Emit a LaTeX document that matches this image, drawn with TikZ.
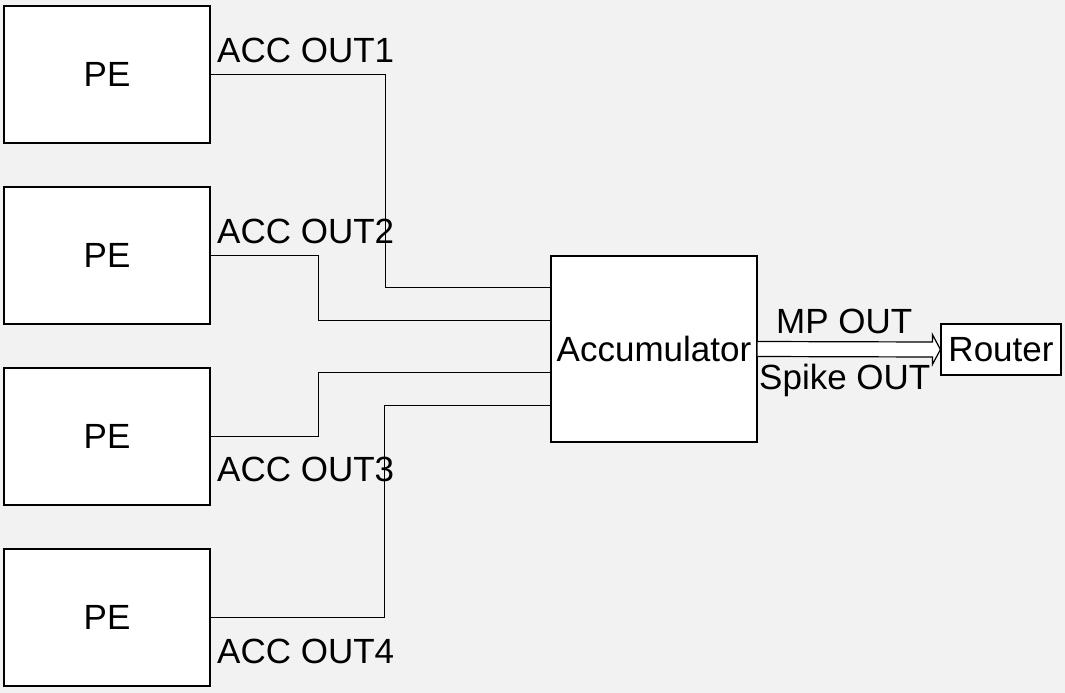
\documentclass[tikz,border=0pt]{standalone}
\usepackage{fontspec}
\setmainfont{Liberation Sans}
\usetikzlibrary{calc}
\definecolor{bg}{HTML}{F2F2F2}
\tikzset{
  box/.style={draw=black, fill=white, line width=1.2pt, inner sep=0pt, font=\fontsize{35}{42}\selectfont},
  lbl/.style={anchor=base west, inner sep=0pt, font=\fontsize{35}{42}\selectfont},
  wire/.style={draw=black, line width=1.2pt},
}
\begin{document}
\begin{tikzpicture}[x=1pt,y=-1pt]
\fill[bg] (0,0) rectangle (1065,693);
\useasboundingbox (0,0) rectangle (1065,693);
\node[box, minimum width=206pt, minimum height=137pt] (pe1) at (107,74.5) {PE};
\node[box, minimum width=206pt, minimum height=137pt] (pe2) at (107,255.5) {PE};
\node[box, minimum width=206pt, minimum height=137pt] (pe3) at (107,436.5) {PE};
\node[box, minimum width=206pt, minimum height=137pt] (pe4) at (107,617.5) {PE};
\node[box, minimum width=206pt, minimum height=186pt] (acc) at (654,349) {Accumulator};
\node[box, minimum width=120pt, minimum height=51pt] (router) at (1001,349.5) {Router};
\coordinate (a1) at ($(acc.north west)+(0,32)$);
\coordinate (a2) at ($(acc.north west)+(0,65)$);
\coordinate (a3) at ($(acc.north west)+(0,117)$);
\coordinate (a4) at ($(acc.north west)+(0,150)$);
\draw[wire] (pe1.east) -| ($(a1)+(-165,0)$) -- (a1);
\draw[wire] (pe2.east) -| ($(a2)+(-232,0)$) -- (a2);
\draw[wire] (pe3.east) -| ($(a3)+(-232,0)$) -- (a3);
\draw[wire] (pe4.east) -| ($(a4)+(-166,0)$) -- (a4);
\draw[wire, fill=white] ($(acc.east)+(0,-7.5)$) -- ($(router.west)+(-8,-7.5)$) -- ($(router.west)+(-8,-15)$) -- (router.west) -- ($(router.west)+(-8,15)$) -- ($(router.west)+(-8,7.5)$) -- ($(acc.east)+(0,7.5)$);
\node[lbl] (l1) at (217,63) {ACC OUT1};
\node[lbl] (l2) at (217,243) {ACC OUT2};
\node[lbl] (l3) at (217,481) {ACC OUT3};
\node[lbl] (l4) at (217,663) {ACC OUT4};
\node[lbl] (mp) at (776,333) {MP OUT};
\node[lbl] (sp) at (759,389) {Spike OUT};
\end{tikzpicture}
\end{document}
